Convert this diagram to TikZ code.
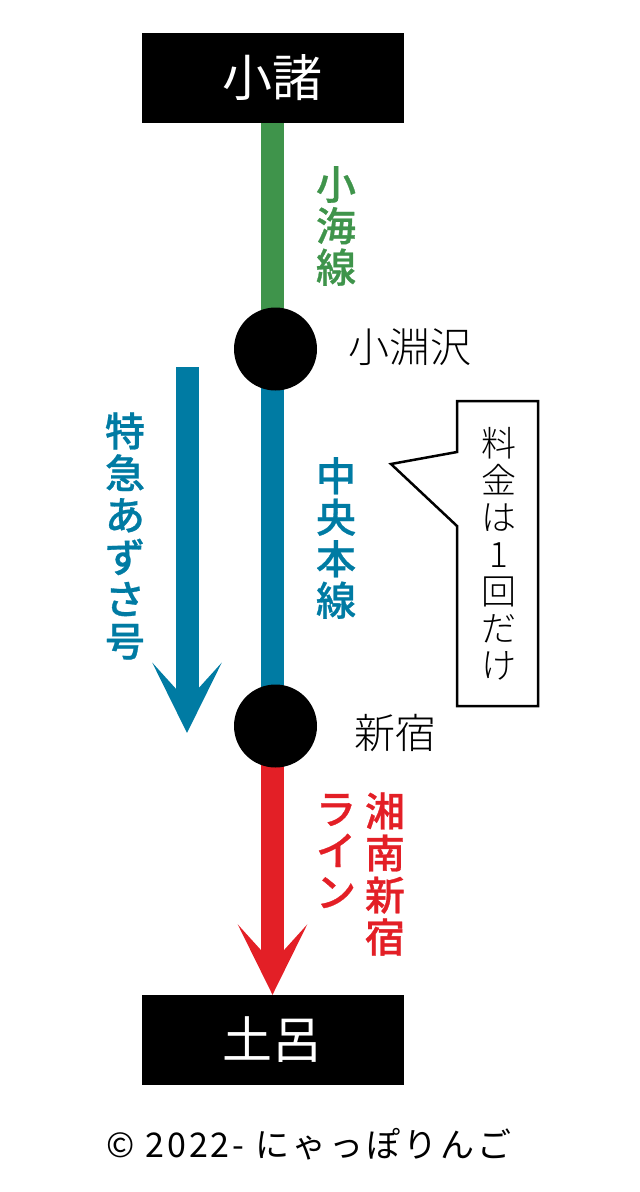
\documentclass[tikz,border=0pt]{standalone}
\usepackage{fontspec}
\setmainfont{Noto Sans CJK JP}
\newfontfamily\mediumcjk[FakeBold = 0.7]{Noto Sans CJK JP Medium}
\newfontfamily\lightcjk{Noto Sans CJK JP Light}
\usetikzlibrary{arrows.meta, backgrounds}
\definecolor{lineGreen}{HTML}{3F944B}
\definecolor{lineBlue}{HTML}{007BA3}
\definecolor{lineRed}{HTML}{E31F26}
\tikzset{
    terminal/.style = {fill = black, text = white, minimum width = 262pt, minimum height = 90pt, inner sep = 0pt, font = \fontsize{50}{50}\selectfont},
    station/.style = {circle, fill = black, minimum size = 83pt, inner sep = 0pt},
    stationlabel/.style = {font = \lightcjk\fontsize{41}{41}\selectfont, inner sep = 0pt},
    linelabel/.style = {font = \mediumcjk\fontsize{40}{41.5}\selectfont, align = center, inner sep = 0pt},
    longlabel/.style = {linelabel, font = \mediumcjk\fontsize{40}{42}\selectfont},
    notetext/.style = {font = \lightcjk\fontsize{35}{37}\selectfont, align = center, inner sep = 0pt},
    railline/.style = {line width = 23pt},
    railarrow/.style = {line width = 23pt, -{Stealth[length = 70pt, width = 69pt, inset = 38pt]}}
}
\begin{document}
\begin{tikzpicture}[x = 1pt, y = -1pt]
    \useasboundingbox (0, 0) rectangle (640, 1192);

    \node [terminal] (komoro) at (272.5, 77.5) {小諸};
    \node [terminal] (toro) at (272.5, 1040) {土呂};
    \node [station] (kobuchi) at (275.5, 349) {};
    \node [station] (shinjuku) at (275.5, 726) {};
    \coordinate (kobuchiLine) at (272.5, 349);
    \coordinate (shinjukuLine) at (272.5, 726);
    \coordinate (azusaStart) at (187, 367);
    \coordinate (azusaEnd) at (187, 733);

    % lines
    \begin{scope}[on background layer]
        \draw [railline, lineGreen] (komoro.south) -- (kobuchiLine);
        \draw [railline, lineBlue] (kobuchiLine) -- (shinjukuLine);
        \draw [railarrow, lineRed] (shinjukuLine) -- (toro.north);
        \draw [railarrow, lineBlue] (azusaStart) -- (azusaEnd);
    \end{scope}

    % labels
    \node [linelabel, text = lineGreen] (koumi) at (336, 226) {小\\海\\線};
    \node [linelabel, text = lineBlue] (chuo) at (336, 538) {中\\央\\本\\線};
    \node [longlabel, text = lineBlue] (azusa) at (125, 536) {特\\急\\あ\\ず\\さ\\号};
    \node [longlabel, text = lineRed] (shonan) at (385, 874) {湘\\南\\新\\宿};
    \node [linelabel, text = lineRed] (rain) at (336, 851) {ラ\\イ\\ン};
    \node [stationlabel] (kobuchilabel) at (410, 347) {小淵沢};
    \node [stationlabel] (shinjukulabel) at (395, 733) {新宿};

    % callout
    \draw [line width = 2.5pt, fill = white] (457, 401) -- (538, 401) -- (538, 706) -- (457, 706) -- (457, 526) -- (391, 464) -- (457, 452) -- cycle;
    \node [notetext] (note) at (499, 554) {料\\金\\は\\1\\回\\だ\\け};

    \node [font = \fontsize{34}{34}\selectfont\addfontfeature{LetterSpace = 9}, inner sep = 0pt] (credit) at (309, 1144) {© 2022- にゃっぽりんご};
\end{tikzpicture}
\end{document}
